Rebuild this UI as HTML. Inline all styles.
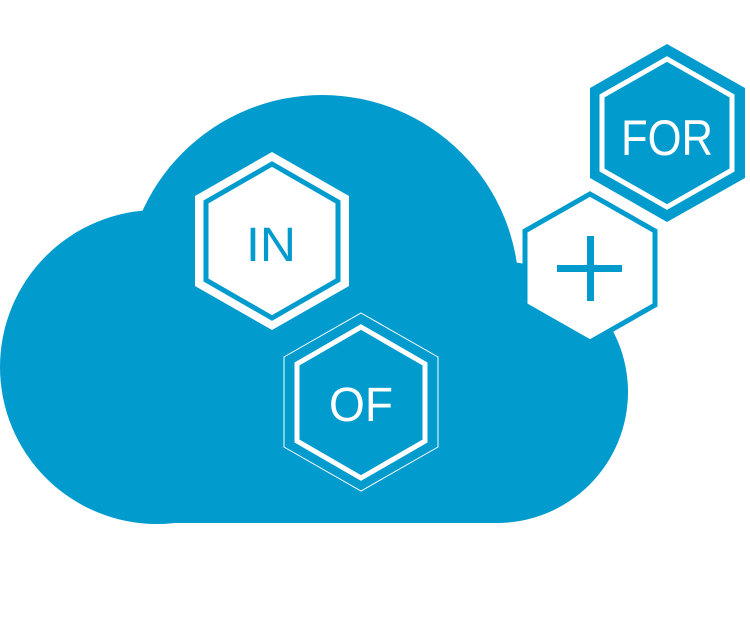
<!DOCTYPE html>
<html><head><style>
html,body{margin:0;padding:0;background:#fff;}
svg{display:block;}
text{font-family:"Liberation Sans",sans-serif;}
</style></head><body>
<svg width="750" height="627" viewBox="0 0 750 627">
<g fill="#029bce">
<circle cx="157" cy="367" r="157"/>
<circle cx="322" cy="292" r="197"/>
<circle cx="497" cy="392" r="131"/>
<rect x="157" y="367" width="340" height="156"/>
</g>
<!-- IN -->
<polygon points="272,152 349,196 349,286 272,330 195,286 195,196" fill="#fff"/>
<polygon points="272,164 338,202 338,280 272,318 206,280 206,202" fill="none" stroke="#029bce" stroke-width="5"/>
<text x="246" y="261" font-size="48" fill="#029bce" textLength="50" lengthAdjust="spacingAndGlyphs">IN</text>
<!-- OF -->
<polygon points="361,313 438,357 438,447 361,491 284,447 284,357" fill="none" stroke="#fff" stroke-width="1"/>
<polygon points="361,327 425,364 425,441 361,478 297,441 297,364" fill="none" stroke="#fff" stroke-width="5"/>
<text x="329" y="421" font-size="48" fill="#fff" textLength="64" lengthAdjust="spacingAndGlyphs">OF</text>
<!-- FOR -->
<polygon points="667,44 745,88 745,178 667,222 590,178 590,88" fill="#029bce"/>
<polygon points="667,59 732,96 732,170 667,207 602,170 602,96" fill="none" stroke="#fff" stroke-width="5"/>
<text x="621" y="155" font-size="50" fill="#fff" textLength="92" lengthAdjust="spacingAndGlyphs">FOR</text>
<!-- plus -->
<polygon points="590,194 655,231 655,305 590,342 525,305 525,231" fill="#fff" stroke="#029bce" stroke-width="5"/>
<rect x="557" y="265" width="65" height="7" fill="#029bce"/>
<rect x="587" y="236" width="7" height="65" fill="#029bce"/>
</svg>
</body></html>
